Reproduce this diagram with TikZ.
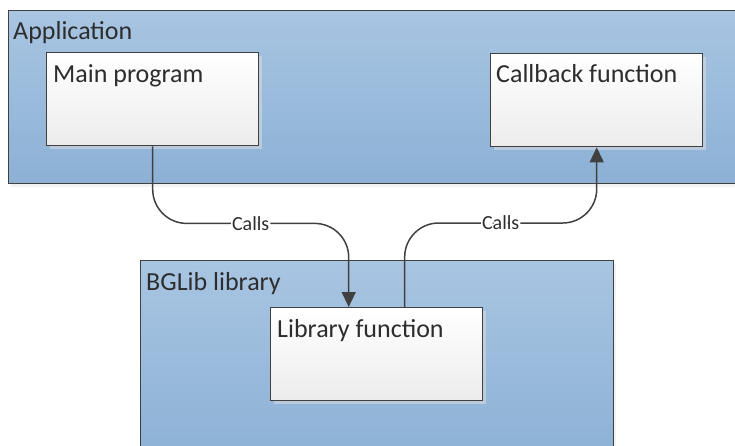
\documentclass[tikz,border=0pt]{standalone}
\usepackage{fontspec}
\setmainfont{Carlito}
\usetikzlibrary{arrows.meta,shadows}
\definecolor{framegrey}{RGB}{64,64,64}
\definecolor{textgrey}{RGB}{45,45,45}
\definecolor{layertop}{RGB}{168,197,226}
\definecolor{layerbottom}{RGB}{140,177,213}
\definecolor{boxbottom}{RGB}{236,236,236}

\begin{document}
\begin{tikzpicture}[x=1pt,y=-1pt,
        layer/.style={draw=framegrey,line width=1.4pt,top color=layertop,bottom color=layerbottom,
            anchor=north west,inner sep=0pt,drop shadow={shadow xshift=2pt,shadow yshift=-3pt,fill=black!10}},
        funcbox/.style={draw=framegrey,line width=1.4pt,top color=white,bottom color=boxbottom,
            anchor=north west,inner sep=0pt,minimum width=212pt,minimum height=93pt,
            drop shadow={shadow xshift=3pt,shadow yshift=-3pt,fill=black!12}},
        boxtitle/.style={anchor=base west,inner sep=0pt,text=textgrey,font=\fontsize{26}{30}\selectfont},
        calls/.style={fill=white,inner sep=1pt,text=textgrey,font=\fontsize{20}{24}\selectfont},
        conn/.style={draw=framegrey,line width=1.5pt,rounded corners=34pt,-{Triangle[length=15pt,width=14pt]}}]
    \useasboundingbox (0,0) rectangle (735,445);

    % layers
    \node[layer,minimum width=740pt,minimum height=173pt] (app) at (8,10) {};
    \node[layer,minimum width=473pt,minimum height=200pt] (bglib) at (140,260) {};
    \node[boxtitle] (apptitle) at ([shift={(5,29)}]app.north west) {Application};
    \node[boxtitle] (bglibtitle) at ([shift={(6,30)}]bglib.north west) {BGLib library};

    % functions
    \node[funcbox] (main) at (46,52) {};
    \node[funcbox] (callback) at (490,53) {};
    \node[funcbox] (libfn) at (270,307) {};
    \node[boxtitle] (maintitle) at ([shift={(7,30)}]main.north west) {Main program};
    \node[boxtitle] (callbacktitle) at ([shift={(6,29)}]callback.north west) {Callback function};
    \node[boxtitle] (libfntitle) at ([shift={(7,30)}]libfn.north west) {Library function};

    % calls
    \draw[conn] (main.south) -- ++(0,77) -| node[calls,pos=0.25] {Calls} ([xshift=-28pt]libfn.north);
    \draw[conn] ([xshift=28pt]libfn.north) -- ++(0,-84) -| node[calls,pos=0.25] {Calls} (callback.south);
\end{tikzpicture}
\end{document}
